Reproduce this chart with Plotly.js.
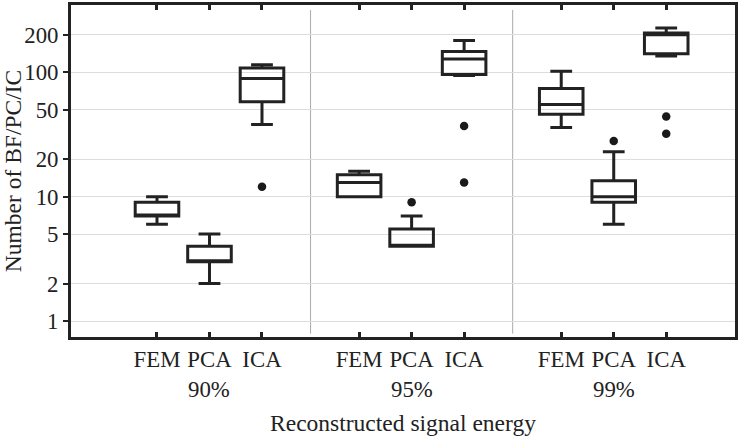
<!DOCTYPE html>
<html>
<head>
<meta charset="utf-8">
<script src="https://cdn.plot.ly/plotly-3.0.1.min.js"></script>
<style>
html,body{margin:0;padding:0;background:#fff;}
#chart{width:742px;height:439px;}
</style>
</head>
<body>
<div id="chart"></div>
<script>
// ---- data ----
const groups = ['90%', '95%', '99%'];
const methods = ['FEM', 'PCA', 'ICA'];
// order: 90% FEM, PCA, ICA, 95% FEM, PCA, ICA, 99% FEM, PCA, ICA
const lowerFence = [6, 2, 38, 10, 4, 94, 36, 6, 135];
const q1Values = [7, 3, 58, 10, 4, 96, 46, 9, 141];
const medianValues = [7, 3, 89, 13, 4, 128, 55, 10, 200];
const q3Values = [9, 4, 108, 15, 5.5, 147, 74, 13.4, 207];
const upperFence = [10, 5, 115, 16, 7, 180, 102, 23, 227];
// outliers: box index and value
const outlierBox = [2, 4, 5, 5, 7, 8, 8];
const outlierValue = [12, 9, 37, 13, 28, 44, 32];
const yTickVals = [1, 2, 5, 10, 20, 50, 100, 200];

// ---- layout helpers ----
const groupStep = 3.85;
const pos = [];
const tickText = [];
groups.forEach((g, gi) => methods.forEach((m, mi) => {
  pos.push(gi * groupStep + mi + 1);
  tickText.push(m);
}));
const outX = outlierBox.map(i => pos[i]);
const ink = '#222222';
const family = '"Liberation Serif", "Times New Roman", serif';
const tickFont = {family: family, size: 22.8, color: ink};
const titleFont = {family: family, size: 23.5, color: ink};

const traces = [
  {
    type: 'box',
    x: pos,
    q1: q1Values,
    median: medianValues,
    q3: q3Values,
    lowerfence: lowerFence,
    upperfence: upperFence,
    width: 0.83,
    whiskerwidth: 0.5,
    boxpoints: false,
    line: {color: ink, width: 3},
    fillcolor: 'rgba(255,255,255,0)',
    hoverinfo: 'skip',
    showlegend: false
  },
  {
    type: 'scatter',
    mode: 'markers',
    x: outX,
    y: outlierValue,
    marker: {color: '#1a1a1a', size: 8.5},
    hoverinfo: 'skip',
    showlegend: false
  }
];

// separators halfway between groups
const shapes = [];
for (let gi = 0; gi < groups.length - 1; gi++) {
  const xs = (pos[gi * 3 + 2] + pos[(gi + 1) * 3]) / 2;
  shapes.push({type: 'line', xref: 'x', yref: 'paper', x0: xs, x1: xs, y0: 0.01, y1: 0.985,
    line: {color: '#aaaaaa', width: 1}, layer: 'below'});
}
const annotations = groups.map((g, gi) => ({
  text: g, x: pos[gi * 3 + 1], xref: 'x', y: -0.158, yref: 'paper',
  yanchor: 'middle', xanchor: 'center', showarrow: false, font: tickFont
}));

const layout = {
  width: 742, height: 439,
  margin: {l: 71, r: 7, t: 5, b: 102},
  paper_bgcolor: '#ffffff', plot_bgcolor: '#ffffff',
  font: tickFont,
  showlegend: false,
  xaxis: {
    range: [-0.638, 12.01],
    tickmode: 'array', tickvals: pos, ticktext: tickText,
    ticks: 'inside', ticklen: 5, tickwidth: 3, tickcolor: ink,
    showline: true, linecolor: ink, linewidth: 3, mirror: 'ticks',
    showgrid: false, zeroline: false,
    tickfont: tickFont,
    title: {text: 'Reconstructed signal energy', font: titleFont, standoff: 44}
  },
  yaxis: {
    type: 'log',
    range: [-0.1285, 2.5406],
    tickmode: 'array', tickvals: yTickVals, ticktext: yTickVals.map(String),
    ticks: 'outside', ticklen: 5, tickwidth: 2, tickcolor: ink,
    showline: true, linecolor: ink, linewidth: 3, mirror: true,
    showgrid: true, gridcolor: '#dddddd', gridwidth: 1,
    zeroline: false,
    tickfont: tickFont,
    title: {text: 'Number of BF/PC/IC', font: titleFont, standoff: 6}
  },
  shapes: shapes,
  annotations: annotations
};

Plotly.newPlot('chart', traces, layout, {staticPlot: true, displayModeBar: false});
</script>
</body>
</html>
